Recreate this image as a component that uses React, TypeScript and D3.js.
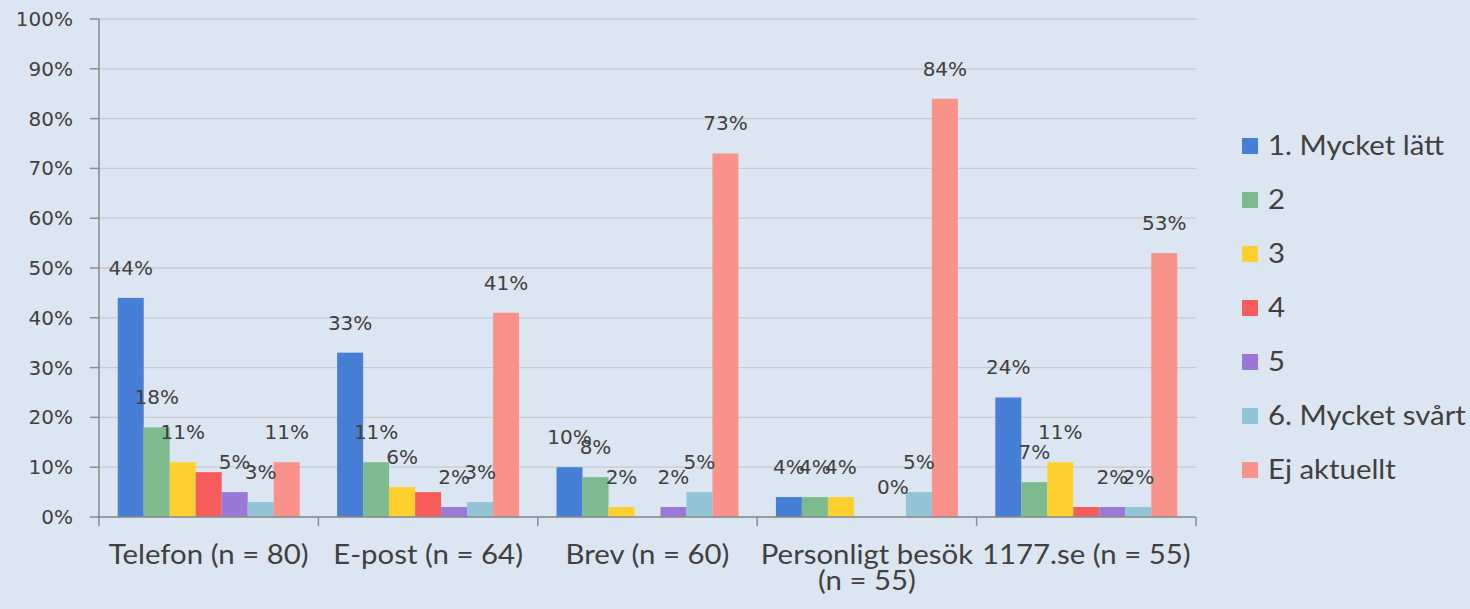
import React from "react";
import * as d3 from "d3";

const categories = ["Telefon (n = 80)", "E-post (n = 64)", "Brev (n = 60)", "Personligt besök\n(n = 55)", "1177.se (n = 55)"];
const seriesNames = ["1. Mycket lätt", "2", "3", "4", "5", "6. Mycket svårt", "Ej aktuellt"];
const seriesColors = ["#477fd6", "#7dbb8e", "#fdd02e", "#f75c5c", "#9a78d8", "#93c4d6", "#f8928a"];
const s1 = [44, 33, 10, 4, 24];
const s2 = [18, 11, 8, 4, 7];
const s3 = [11, 6, 2, 4, 11];
const s4 = [9, 5, 0, 0, 2];
const s5 = [5, 2, 2, 0, 2];
const s6 = [3, 3, 5, 5, 2];
const s7 = [11, 41, 73, 84, 53];
const seriesValues = [s1, s2, s3, s4, s5, s6, s7];
// series "4" shows no data labels in the reference
const showLabels = [true, true, true, false, true, true, true];
const yTicks = [0, 10, 20, 30, 40, 50, 60, 70, 80, 90, 100];

const W = 1470;
const H = 609;
const left = 99;
const right = 1196;
const top = 19;
const bottom = 517;
const numFont = "'DejaVu Sans', sans-serif";
const txtFont = "Lato, sans-serif";
const textColor = "#404040";
const stretch = 1.13;

export default function App() {
  const x0 = d3.scaleBand<string>().domain(categories).range([left, right]).paddingInner(0).paddingOuter(0);
  const x1 = d3.scaleBand<string>().domain(seriesNames).range([0, x0.bandwidth()]).paddingInner(0).paddingOuter(0.72);
  const y = d3.scaleLinear().domain([0, 100]).range([bottom, top]);

  return (
    <svg width={W} height={H} style={{ position: "absolute", left: 0, top: 0, background: "#dce6f2" }}>
      <rect x={0} y={0} width={W} height={H} fill="#dce6f2" />
      {/* gridlines */}
      {yTicks.map((t) => (
        <line key={"g" + t} x1={left} x2={right} y1={y(t)} y2={y(t)} stroke="#c6cacd" strokeWidth={1.3} />
      ))}
      {/* y axis */}
      <line x1={left} x2={left} y1={top} y2={bottom} stroke="#8a8a8a" strokeWidth={1.5} />
      {yTicks.map((t) => (
        <g key={"yt" + t}>
          <line x1={left - 9} x2={left} y1={y(t)} y2={y(t)} stroke="#8a8a8a" strokeWidth={1.5} />
          <text x={73} y={y(t) + 7} textAnchor="end" fontFamily={numFont} fontSize={20} fill={textColor}>
            {t}%
          </text>
        </g>
      ))}
      {/* bars */}
      {seriesValues.map((vals, si) =>
        vals.map((v, ci) => {
          const bx = (x0(categories[ci]) as number) + (x1(seriesNames[si]) as number);
          return v > 0 ? (
            <rect key={`b${si}-${ci}`} x={bx} y={y(v)} width={x1.bandwidth()} height={bottom - y(v)} fill={seriesColors[si]} />
          ) : null;
        })
      )}
      {/* x axis */}
      <line x1={left} x2={right} y1={bottom} y2={bottom} stroke="#8a8a8a" strokeWidth={1.5} />
      {[...categories.map((c) => x0(c) as number), right].map((tx, i) => (
        <line key={"xt" + i} x1={tx} x2={tx} y1={bottom} y2={bottom + 9} stroke="#8a8a8a" strokeWidth={1.5} />
      ))}
      {/* data labels */}
      {seriesValues.map((vals, si) =>
        showLabels[si]
          ? vals.map((v, ci) => {
              if (v === 0 && !(si === 4 && ci === 3)) return null;
              const cx = (x0(categories[ci]) as number) + (x1(seriesNames[si]) as number) + x1.bandwidth() / 2;
              return (
                <text key={`l${si}-${ci}`} x={cx} y={y(v) - 23} textAnchor="middle" fontFamily={numFont} fontSize={20} fill={textColor}>
                  {v}%
                </text>
              );
            })
          : null
      )}
      {/* category labels */}
      {categories.map((c) => {
        const cx = (x0(c) as number) + x0.bandwidth() / 2;
        const lines = c.split("\n");
        return (
          <text
            key={"c" + c}
            transform={`translate(${cx},564) scale(${stretch},1)`}
            textAnchor="middle"
            fontFamily={txtFont}
            fontSize={26}
            fill={textColor}
          >
            {lines.map((ln, i) => (
              <tspan key={i} x={0} dy={i === 0 ? 0 : 26}>
                {ln}
              </tspan>
            ))}
          </text>
        );
      })}
      {/* legend */}
      {seriesNames.map((s, i) => {
        const cy = 146 + i * 54;
        return (
          <g key={"lg" + s}>
            <rect x={1242} y={cy - 8} width={16} height={16} fill={seriesColors[i]} />
            <text transform={`translate(1268,${cy + 9}) scale(${stretch},1)`} fontFamily={txtFont} fontSize={26} fill={textColor}>
              {s}
            </text>
          </g>
        );
      })}
    </svg>
  );
}
